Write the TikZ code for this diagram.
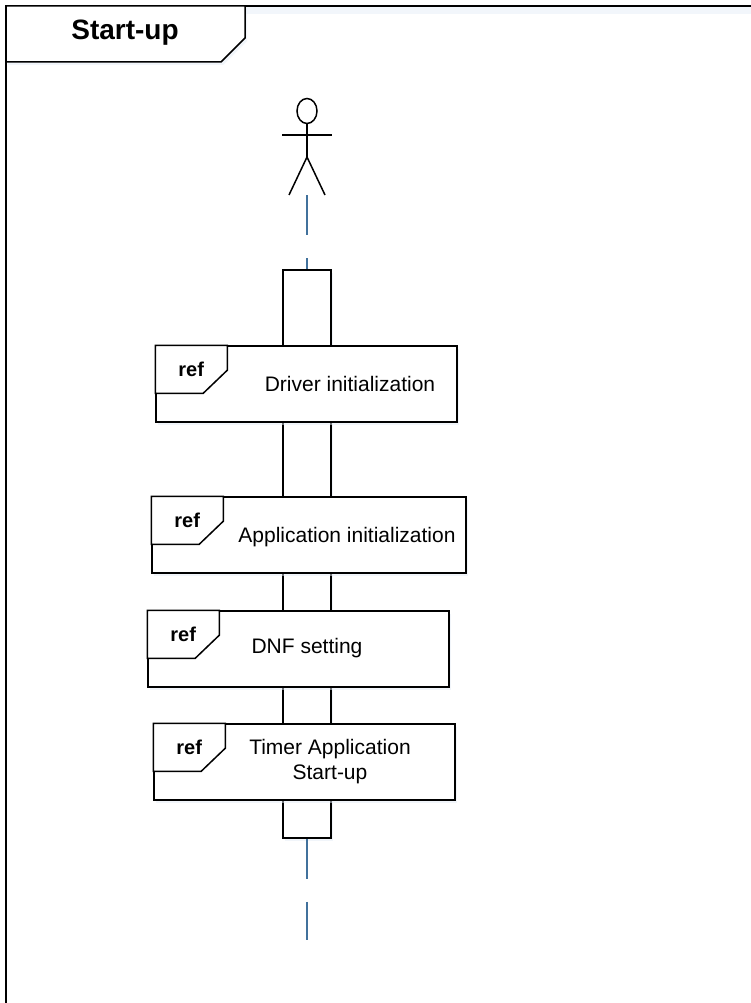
\documentclass[tikz,border=0pt]{standalone}
\usepackage{fontspec}
\setmainfont{Liberation Sans}
\usetikzlibrary{shadows}
\definecolor{lifeblue}{RGB}{65,113,156}
\definecolor{shadowblue}{RGB}{228,237,246}
\definecolor{faintblue}{RGB}{242,246,251}
\begin{document}
\begin{tikzpicture}[x=1pt,y=-1pt,line width=1.5pt,
  softshadow/.style={drop shadow={shadow xshift=2pt,shadow yshift=-3pt,fill=shadowblue}},
  refbox/.style={draw,fill=white,rectangle,inner sep=0pt,minimum height=76pt,softshadow},
  acttbox/.style={draw,fill=white,rectangle,inner sep=0pt,minimum width=48pt,minimum height=568pt,softshadow},
  tabpath/.style={draw,fill=white,line join=miter},
  reflabel/.style={font=\fontsize{20}{24}\selectfont\bfseries,inner sep=0pt},
  boxlabel/.style={font=\fontsize{21}{25}\selectfont,align=center,inner sep=0pt},
  titlelabel/.style={font=\fontsize{28}{32}\selectfont\bfseries,inner sep=0pt},
  lifeline/.style={draw=lifeblue,line width=1.5pt,dash pattern=on 40pt off 23pt},
  stick/.style={draw=black,line width=1.5pt}
]
\useasboundingbox (0,0) rectangle (751,1003);
\clip (0,0) rectangle (751,1003);
\fill[white] (0,0) rectangle (751,1003);

% frame
\fill[faintblue] (7,7) rectangle (751,14);
\draw[line width=1.8pt] (6,1010) -- (6,6) -- (760,6);
\path[tabpath,softshadow] (6,6) -- (245,6) -- (245,38) -- (221,62) -- (6,62) -- cycle;
\node[titlelabel] (title) at (125,33) {Start-up};

% actor
\coordinate (actor) at (307,111);
\draw[stick] (actor) ellipse [x radius=10, y radius=12.5];
\coordinate (neck) at (307,123.5);
\coordinate (hip) at (307,157);
\coordinate (handl) at (282,135);
\coordinate (handr) at (332,135);
\coordinate (footl) at (289,195);
\coordinate (footr) at (325,195);
\coordinate (feet) at (307,195);
\draw[stick] (neck) -- (hip);
\draw[stick] (handl) -- (handr);
\draw[stick] (footl) -- (hip) -- (footr);

% activation bar
\node[acttbox] (act) at (307,554) {};
\coordinate (lifeend) at (307,940);
\draw[lifeline] (feet) -- (act.north);
\draw[lifeline] (act.south) -- (lifeend);

% ref boxes
\node[refbox,minimum width=301pt] (b1) at (306.5,384) {};
\node[refbox,minimum width=314pt] (b2) at (309,535) {};
\node[refbox,minimum width=301pt] (b3) at (298.5,649) {};
\node[refbox,minimum width=301pt] (b4) at (304.5,762) {};

\foreach \b in {b1,b2,b3,b4}{
  \path[tabpath] (\b.north west) -- ++(72,0) -- ++(0,25) -- ++(-24,23) -- ++(-48,0) -- cycle;
  \node[reflabel] (\b ref) at ([shift={(36,24)}]\b.north west) {ref};
}

\node[boxlabel] (t1) at (350,384) {Driver initialization};
\node[boxlabel] (t2) at (347,537) {Application initialization};
\node[boxlabel] (t3) at (307,648) {DNF setting};
\node[boxlabel] (t4) at (330,762) {Timer Application\\Start-up};
\end{tikzpicture}
\end{document}
